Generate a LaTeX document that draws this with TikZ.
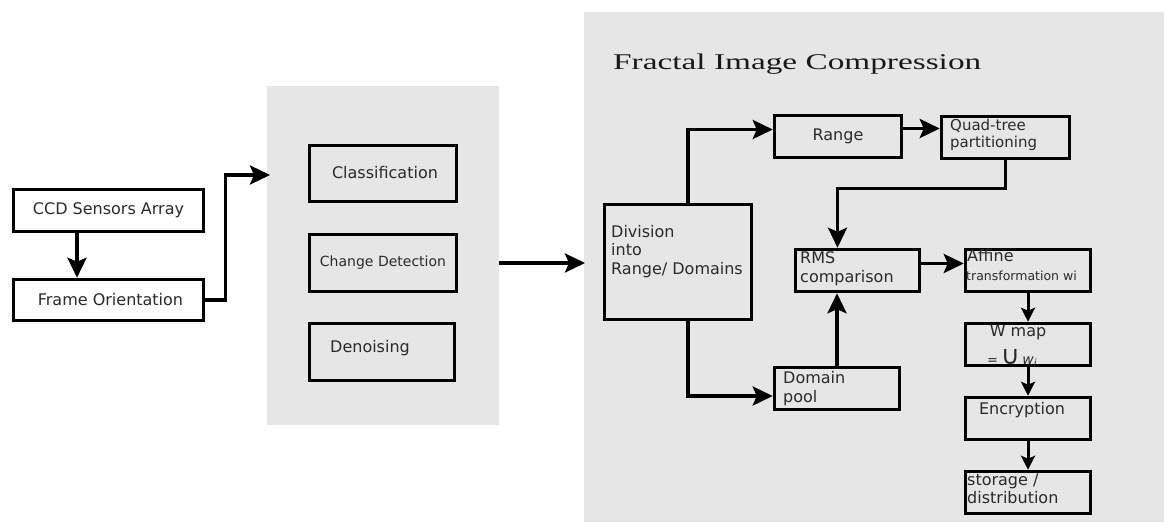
\documentclass[tikz,border=0pt]{standalone}
\usepackage{fontspec}
\setmainfont{DejaVu Sans}
\newfontfamily\titlefont{Liberation Serif}
\usetikzlibrary{arrows.meta}
\definecolor{panelgray}{HTML}{E6E6E6}
\definecolor{txt}{HTML}{2A2A2A}
\begin{document}
\begin{tikzpicture}[x=1pt,y=-1pt,
  panel/.style={fill=panelgray, draw=none, inner sep=0pt},
  box/.style={draw=black, line width=3.5pt, fill=panelgray, inner sep=0pt, text=txt,
              font=\fontsize{16}{18}\selectfont},
  wbox/.style={box, fill=white},
  lbl/.style={text=txt, inner sep=0pt, align=left, font=\fontsize{16}{18.5}\selectfont},
  arr/.style={line width=3.5pt, -{Stealth[length=20pt,width=19pt,inset=4pt]}},
  sarr/.style={line width=3pt, -{Stealth[length=14pt,width=14pt,inset=3pt]}}
]
\useasboundingbox (0,0) rectangle (1164,522);
\fill[white] (0,0) rectangle (1164,522);
% panels
\node[panel, minimum width=232, minimum height=339] (p2) at (383,255.5) {};
\node[panel, minimum width=580, minimum height=510] (p3) at (874,267) {};
\node[anchor=west, inner sep=0pt, text=black!90] (title) at (613,64)
  {\titlefont\fontsize{22.5}{24}\selectfont\scalebox{1.48}[1]{Fractal Image Compression}};
% left boxes
\node[wbox, minimum width=190, minimum height=42] (ccd) at (108.5,210.5) {CCD Sensors Array};
\node[wbox, minimum width=190, minimum height=41] (frame) at (108.5,300) {\hspace*{4pt}Frame Orientation};
% middle panel boxes
\node[box, minimum width=147, minimum height=56] (class) at (383,173.5) {\raisebox{3pt}{\hspace*{4pt}Classification}};
\node[box, minimum width=147, minimum height=57, font=\fontsize{14}{16}\selectfont] (change) at (383,263) {\raisebox{2pt}{Change Detection}};
\node[box, minimum width=145, minimum height=57] (denoise) at (382,352) {};
\node[lbl, anchor=west] (denoiseT) at (330,348) {Denoising};
% right panel boxes
\node[box, minimum width=147, minimum height=115] (div) at (678,262) {};
\node[lbl, anchor=west] (divT) at (611,251.5) {Division\\into\\Range/ Domains};
\node[box, minimum width=127, minimum height=42] (range) at (838,136.5) {\raisebox{2pt}{Range}};
\node[box, minimum width=128, minimum height=42] (quad) at (1005.5,137.5) {};
\node[lbl, anchor=west, font=\fontsize{15}{16.5}\selectfont] (quadT) at (950,135) {Quad-tree\\partitioning};
\node[box, minimum width=124, minimum height=42] (rms) at (857.5,270.5) {};
\node[lbl, anchor=west] (rmsT) at (800,268.5) {RMS\\comparison};
\node[box, minimum width=125, minimum height=42] (affine) at (1028,270.5) {};
\node[lbl, anchor=west] (affT1) at (967,256) {Affine};
\node[lbl, anchor=west, font=\fontsize{12.5}{14}\selectfont] (affT2) at (966,276) {transformation wi};
\node[box, minimum width=125, minimum height=42] (wmap) at (1028,344.5) {};
\node[lbl] (wmT1) at (1018,332) {W map};
\node[lbl, anchor=west] (wmT2) at (987,358) {{\fontsize{13}{13}\selectfont=}\,{\fontsize{26}{26}\selectfont ∪}\,{\fontsize{14}{14}\selectfont\itshape w\raisebox{-2.5pt}{\fontsize{10}{10}\selectfont i}}};
\node[box, minimum width=125, minimum height=42] (enc) at (1028,418.5) {};
\node[lbl] (encT) at (1022,410) {Encryption};
\node[box, minimum width=125, minimum height=42] (stor) at (1028,492.5) {};
\node[lbl, anchor=west] (storT) at (967,489) {storage /\\distribution};
\node[box, minimum width=125, minimum height=42] (domain) at (837,388.5) {};
\node[lbl, anchor=west] (domT) at (783,388.5) {Domain\\pool};
% free ends
\coordinate (c1) at (270,175);
\coordinate (a1) at (499,263);
\coordinate (a2) at (585,263);
% connectors
\draw[arr] ([xshift=-31.5pt]ccd.south) -- ([xshift=-31.5pt]frame.north);
\draw[arr] (frame.east) -- ++(20,0) |- (c1);
\draw[arr] (a1) -- (a2);
\draw[arr] ([xshift=10pt]div.north) |- ([yshift=7pt]range.west);
\draw[arr] ([yshift=8pt]range.east) -- ([yshift=8pt]range.east -| quad.west);
\draw[arr] (quad.south) -- ++(0,28) -| ([xshift=-20pt]rms.north);
\draw[arr] ([yshift=7pt]rms.east) -- ([yshift=7pt]rms.east -| affine.west);
\draw[arr] ([xshift=10pt]div.south) |- ([yshift=-7.5pt]domain.west);
\draw[arr] (domain.north) -- (domain.north |- rms.south);
\draw[sarr] (affine.south) -- (wmap.north);
\draw[sarr] (wmap.south) -- (enc.north);
\draw[sarr] (enc.south) -- (stor.north);
\end{tikzpicture}
\end{document}
